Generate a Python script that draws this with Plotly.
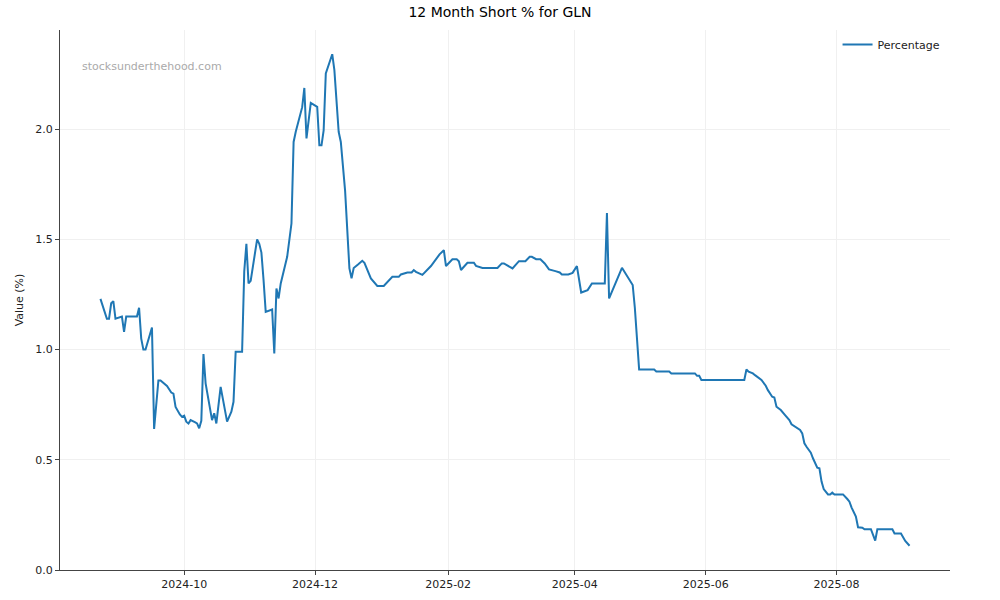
import plotly.graph_objects as go

dates = [
    "2024-08-23", "2024-08-26", "2024-08-27", "2024-08-28", "2024-08-29", "2024-08-30",
    "2024-09-02", "2024-09-03", "2024-09-04", "2024-09-09", "2024-09-10", "2024-09-11",
    "2024-09-12", "2024-09-13", "2024-09-16", "2024-09-17", "2024-09-19", "2024-09-20",
    "2024-09-23", "2024-09-25", "2024-09-26", "2024-09-27", "2024-09-29", "2024-09-30",
    "2024-10-01", "2024-10-02", "2024-10-03", "2024-10-04", "2024-10-06", "2024-10-07",
    "2024-10-08", "2024-10-09", "2024-10-10", "2024-10-11", "2024-10-14", "2024-10-15",
    "2024-10-16", "2024-10-18", "2024-10-21", "2024-10-23", "2024-10-24", "2024-10-25",
    "2024-10-28", "2024-10-29", "2024-10-30", "2024-10-31", "2024-11-01", "2024-11-04",
    "2024-11-05", "2024-11-06", "2024-11-07", "2024-11-08", "2024-11-11", "2024-11-12",
    "2024-11-13", "2024-11-14", "2024-11-15", "2024-11-17", "2024-11-18", "2024-11-20",
    "2024-11-21", "2024-11-22", "2024-11-25", "2024-11-26", "2024-11-27", "2024-11-29",
    "2024-12-02", "2024-12-03", "2024-12-04", "2024-12-05", "2024-12-06", "2024-12-09",
    "2024-12-10", "2024-12-12", "2024-12-13", "2024-12-15", "2024-12-17", "2024-12-18",
    "2024-12-19", "2024-12-21", "2024-12-23", "2024-12-24", "2024-12-27", "2024-12-30",
    "2025-01-02", "2025-01-06", "2025-01-09", "2025-01-10", "2025-01-13", "2025-01-15",
    "2025-01-16", "2025-01-17", "2025-01-20", "2025-01-24", "2025-01-28", "2025-01-30",
    "2025-01-31", "2025-02-03", "2025-02-05", "2025-02-06", "2025-02-07", "2025-02-10",
    "2025-02-13", "2025-02-14", "2025-02-17", "2025-02-24", "2025-02-26", "2025-02-27",
    "2025-03-03", "2025-03-06", "2025-03-09", "2025-03-11", "2025-03-12", "2025-03-14",
    "2025-03-16", "2025-03-18", "2025-03-20", "2025-03-23", "2025-03-25", "2025-03-26",
    "2025-03-29", "2025-03-31", "2025-04-02", "2025-04-04", "2025-04-07", "2025-04-09",
    "2025-04-15", "2025-04-16", "2025-04-17", "2025-04-23", "2025-04-28", "2025-04-29",
    "2025-05-01", "2025-05-08", "2025-05-09", "2025-05-15", "2025-05-16", "2025-05-27",
    "2025-05-28", "2025-05-29", "2025-05-30", "2025-06-19", "2025-06-20", "2025-06-21",
    "2025-06-23", "2025-06-24", "2025-06-27", "2025-06-29", "2025-06-30", "2025-07-02",
    "2025-07-03", "2025-07-04", "2025-07-06", "2025-07-08", "2025-07-10", "2025-07-11",
    "2025-07-13", "2025-07-15", "2025-07-16", "2025-07-17", "2025-07-18", "2025-07-20",
    "2025-07-21", "2025-07-23", "2025-07-24", "2025-07-25", "2025-07-26", "2025-07-28",
    "2025-07-29", "2025-07-30", "2025-07-31", "2025-08-04", "2025-08-06", "2025-08-07",
    "2025-08-08", "2025-08-10", "2025-08-11", "2025-08-13", "2025-08-14", "2025-08-17",
    "2025-08-19", "2025-08-20", "2025-08-27", "2025-08-28", "2025-08-31", "2025-09-02",
    "2025-09-04",
]

percentage = [
    1.23, 1.14, 1.14, 1.21, 1.22, 1.14,
    1.15, 1.08, 1.15, 1.15, 1.19, 1.05,
    1.00, 1.00, 1.10, 0.64, 0.86, 0.86,
    0.835, 0.805, 0.80, 0.74, 0.706, 0.695,
    0.70, 0.673, 0.665, 0.68, 0.671, 0.665,
    0.643, 0.677, 0.98, 0.847, 0.68, 0.711,
    0.665, 0.831, 0.673, 0.718, 0.763, 0.99,
    0.99, 1.355, 1.48, 1.30, 1.312, 1.50,
    1.48, 1.44, 1.315, 1.171, 1.182, 0.982,
    1.277, 1.232, 1.30, 1.376, 1.421, 1.572,
    1.942, 1.988, 2.10, 2.187, 1.958, 2.119,
    2.101, 1.927, 1.927, 1.995, 2.253, 2.34,
    2.268, 1.988, 1.942, 1.72, 1.368, 1.323,
    1.37, 1.386, 1.403, 1.394, 1.323, 1.289,
    1.289, 1.33, 1.33, 1.341, 1.35, 1.35,
    1.361, 1.353, 1.339, 1.379, 1.432, 1.451,
    1.379, 1.41, 1.41, 1.401, 1.361, 1.394,
    1.394, 1.38, 1.37, 1.37, 1.391, 1.391,
    1.368, 1.401, 1.401, 1.421, 1.421, 1.41,
    1.41, 1.391, 1.364, 1.356, 1.35, 1.341,
    1.341, 1.348, 1.379, 1.259, 1.27, 1.30,
    1.30, 1.62, 1.232, 1.371, 1.293, 1.19,
    0.91, 0.91, 0.901, 0.901, 0.892, 0.892,
    0.881, 0.881, 0.862, 0.862, 0.91, 0.90,
    0.892, 0.884, 0.862, 0.836, 0.816, 0.786,
    0.783, 0.741, 0.726, 0.703, 0.68, 0.661,
    0.646, 0.635, 0.62, 0.575, 0.559, 0.532,
    0.507, 0.464, 0.461, 0.401, 0.367, 0.343,
    0.343, 0.351, 0.343, 0.343, 0.322, 0.31,
    0.283, 0.242, 0.194, 0.192, 0.185, 0.185,
    0.133, 0.185, 0.185, 0.166, 0.166, 0.132,
    0.11,
]

x_ticks = ["2024-10-01", "2024-12-01", "2025-02-01", "2025-04-01", "2025-06-01", "2025-08-01"]
x_tick_labels = ["2024-10", "2024-12", "2025-02", "2025-04", "2025-06", "2025-08"]
y_ticks = [0.0, 0.5, 1.0, 1.5, 2.0]

FONT = "DejaVu Sans"

fig = go.Figure()
fig.add_trace(go.Scatter(
    x=dates, y=percentage, mode="lines", name="Percentage",
    line=dict(color="#1f77b4", width=2),
))

fig.update_layout(
    width=1000, height=600,
    margin=dict(l=60, r=50, t=30, b=30, autoexpand=False),
    paper_bgcolor="white", plot_bgcolor="white",
    font=dict(family=FONT, size=11, color="#222222"),
    title=dict(text="12 Month Short % for GLN", x=0.5, xanchor="center",
               y=0.98, yanchor="middle", font=dict(family=FONT, size=14, color="black")),
    showlegend=True,
    legend=dict(x=0.995, y=1.0, xanchor="right", yanchor="top",
                bgcolor="rgba(255,255,255,0.8)", font=dict(size=11, color="#222222"),
                itemwidth=30),
    annotations=[dict(text="stocksunderthehood.com", xref="paper", yref="paper",
                      x=0.023, y=0.933, xanchor="left", yanchor="middle", showarrow=False,
                      font=dict(family=FONT, size=11, color="#aaaaaa"))],
)

fig.update_xaxes(
    type="date",
    range=["2024-08-04 03:36", "2025-09-22 20:24"],
    tickvals=x_ticks, ticktext=x_tick_labels,
    showgrid=True, gridcolor="#f0f0f0", gridwidth=1,
    showline=True, linecolor="#444444", linewidth=1,
    ticks="outside", ticklen=4, tickcolor="#444444",
    zeroline=False, mirror=False, automargin=False,
    tickfont=dict(size=11),
)
fig.update_yaxes(
    range=[0, 2.45],
    tickvals=y_ticks, tickformat=".1f",
    showgrid=True, gridcolor="#f0f0f0", gridwidth=1,
    showline=True, linecolor="#444444", linewidth=1,
    ticks="outside", ticklen=4, tickcolor="#444444",
    zeroline=False, mirror=False, automargin=False,
    title=dict(text="Value (%)", standoff=9, font=dict(size=11)),
    tickfont=dict(size=11),
)

fig.write_html("out.html", config={"displayModeBar": False},
               post_script="document.body.style.margin='0';")
